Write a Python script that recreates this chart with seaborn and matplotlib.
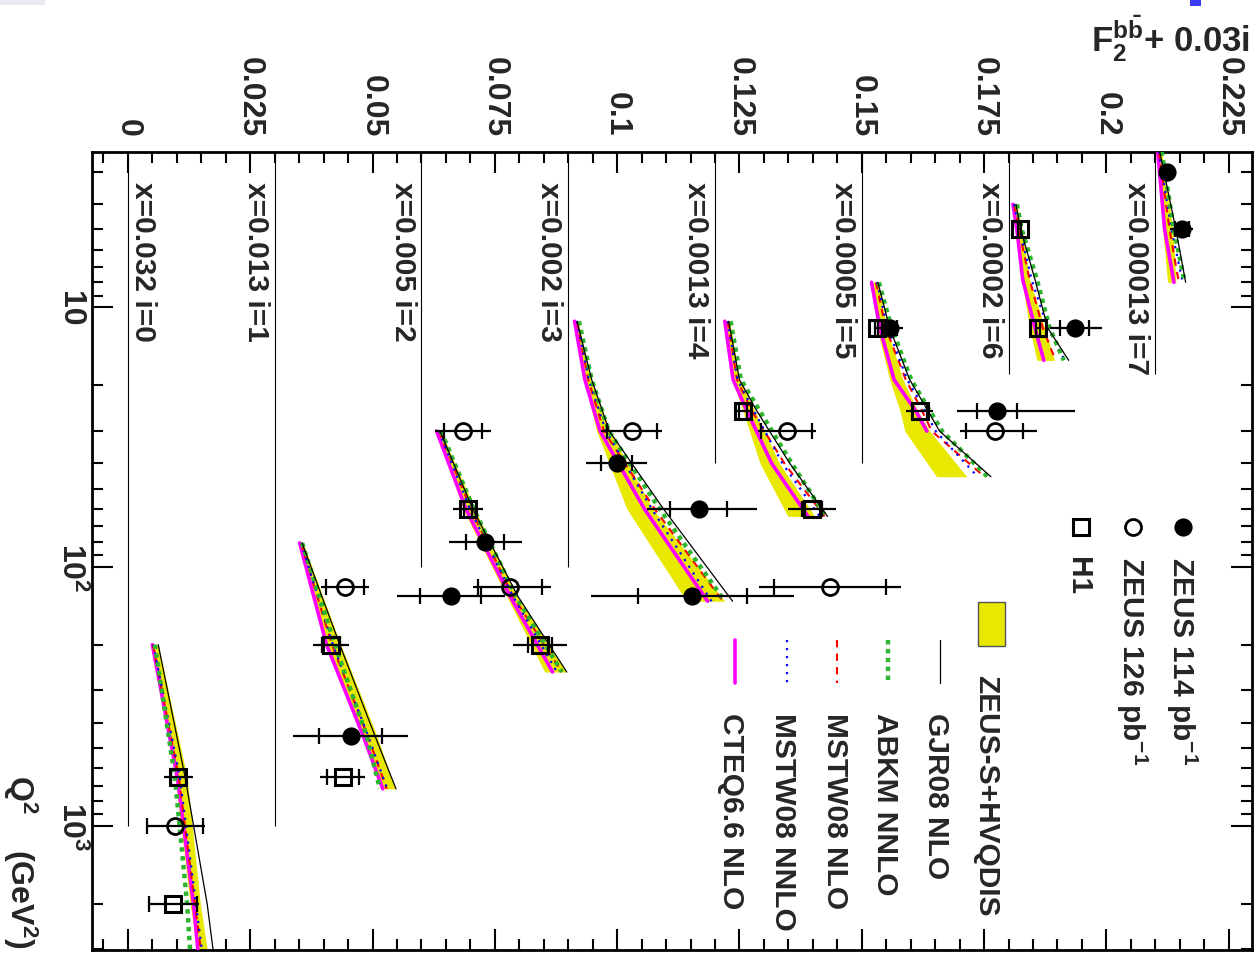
import numpy as np
import matplotlib
matplotlib.use("Agg")
import matplotlib.pyplot as plt
from matplotlib.patches import Rectangle
from matplotlib.ticker import MultipleLocator, LogLocator, NullFormatter
import seaborn as sns

sns.set_theme(style="ticks")
plt.rcParams["font.family"] = ["Liberation Sans", "DejaVu Sans"]
plt.rcParams["font.weight"] = "bold"
plt.rcParams["mathtext.fontset"] = "custom"
plt.rcParams["mathtext.rm"] = "Liberation Sans:bold"
plt.rcParams["mathtext.bf"] = "Liberation Sans:bold"
plt.rcParams["mathtext.it"] = "Liberation Sans:bold"
plt.rcParams["mathtext.default"] = "rm"

# ---------------- x bins (offset i * 0.03) ----------------
bins = [0, 1, 2, 3, 4, 5, 6, 7]
x_values = ["0.032", "0.013", "0.005", "0.002", "0.0013", "0.0005", "0.0002", "0.00013"]
offset_step = 0.03
baseline_end_q2 = [1000, 1000, 100, 100, 40, 40, 18, 18]

# ---------------- theory predictions: F2(bb) vs Q2 per bin ----------------
theory_q2 = [
    [200, 650, 2000, 3000],
    [81, 200, 450, 720],
    [30, 60, 130, 255],
    [11.3, 19, 30, 60, 136],
    [11.3, 19, 25, 40, 64],
    [8, 12, 19, 25, 30, 45],
    [4, 5, 7.8, 12, 16],
    [2.5, 5, 8],
]
band_lo = [
    [0.0050, 0.0097, 0.0127, 0.0142],
    [0.0051, 0.0104, 0.0180, 0.0219],
    [0.0034, 0.0085, 0.0174, 0.0252],
    [0.0013, 0.0033, 0.0058, 0.0120, 0.0242],
    [0.0018, 0.0035, 0.0057, 0.0092, 0.0149],
    [0.0020, 0.0031, 0.0057, 0.0078, 0.0088, 0.0153],
    [0.0009, 0.0015, 0.0027, 0.0043, 0.0058],
    [0.0001, 0.0015, 0.0025],
]
band_hi = [
    [0.0062, 0.0121, 0.0148, 0.0162],
    [0.0058, 0.0135, 0.0209, 0.0246],
    [0.0040, 0.0109, 0.0195, 0.0297],
    [0.0020, 0.0046, 0.0085, 0.0173, 0.0320],
    [0.0030, 0.0050, 0.0081, 0.0132, 0.0204],
    [0.0033, 0.0051, 0.0084, 0.0114, 0.0139, 0.0215],
    [0.0017, 0.0027, 0.0043, 0.0074, 0.0094],
    [0.0013, 0.0036, 0.0042],
]
gjr08_nlo = [
    [0.0062, 0.0117, 0.0162, 0.0174],
    [0.0056, 0.0133, 0.0205, 0.0248],
    [0.0038, 0.0105, 0.0197, 0.0297],
    [0.0018, 0.0048, 0.0084, 0.0195, 0.0336],
    [0.0028, 0.0050, 0.0085, 0.0153, 0.0230],
    [0.0033, 0.0057, 0.0098, 0.0135, 0.0159, 0.0264],
    [0.0015, 0.0025, 0.0054, 0.0080, 0.0123],
    [0.0009, 0.0042, 0.0062],
]
abkm_nnlo = [
    [0.0055, 0.0096, 0.0121, 0.0127],
    [0.0056, 0.0123, 0.0188, 0.0215],
    [0.0040, 0.0107, 0.0193, 0.0287],
    [0.0022, 0.0048, 0.0083, 0.0187, 0.0320],
    [0.0032, 0.0053, 0.0091, 0.0157, 0.0226],
    [0.0035, 0.0061, 0.0101, 0.0139, 0.0164, 0.0257],
    [0.0017, 0.0027, 0.0058, 0.0084, 0.0113],
    [0.0013, 0.0038, 0.0060],
]
mstw08_nlo = [
    [0.0051, 0.0104, 0.0137, 0.0149],
    [0.0054, 0.0117, 0.0190, 0.0229],
    [0.0036, 0.0101, 0.0187, 0.0287],
    [0.0018, 0.0041, 0.0073, 0.0177, 0.0316],
    [0.0026, 0.0045, 0.0075, 0.0142, 0.0224],
    [0.0029, 0.0049, 0.0090, 0.0123, 0.0143, 0.0251],
    [0.0011, 0.0021, 0.0043, 0.0070, 0.0096],
    [0.0007, 0.0029, 0.0048],
]
mstw08_nnlo = [
    [0.0052, 0.0106, 0.0139, 0.0151],
    [0.0054, 0.0119, 0.0191, 0.0230],
    [0.0036, 0.0099, 0.0187, 0.0277],
    [0.0018, 0.0042, 0.0077, 0.0171, 0.0293],
    [0.0026, 0.0046, 0.0079, 0.0138, 0.0214],
    [0.0031, 0.0053, 0.0093, 0.0129, 0.0151, 0.0237],
    [0.0011, 0.0023, 0.0047, 0.0080, 0.0115],
    [0.0007, 0.0033, 0.0056],
]
cteq66_nlo = [
    [0.0050, 0.0101, 0.0134, 0.0143],
    [0.0051, 0.0106, 0.0181, 0.0221],
    [0.0031, 0.0091, 0.0181, 0.0268],
    [0.0013, 0.0034, 0.0065, 0.0156, 0.0285],
    [0.0020, 0.0037, 0.0065, 0.0116, 0.0190],
    [0.0020, 0.0037, 0.0066, 0.0110, 0.0133, np.nan],
    [0.0009, 0.0017, 0.0029, 0.0054, 0.0072],
    [0.0005, 0.0019, 0.0038],
]

# ---------------- measurements ----------------
zeus114_bin = [7, 7, 6, 5, 5, 3, 3, 3, 2, 2, 1]
zeus114_q2 = [3, 5, 12, 12, 25, 40, 60, 130, 80, 130, 450]
zeus114_f2 = [0.0023, 0.0054, 0.0135, 0.0057, 0.0276, 0.0099, 0.0267, 0.0254, 0.0130, 0.0060, 0.0155]
zeus114_stat = [0.0004, 0.0014, 0.0029, 0.0015, 0.0041, 0.0032, 0.0058, 0.0111, 0.0039, 0.0062, 0.0065]
zeus114_tot_lo = [0.0006, 0.0023, 0.0051, 0.0027, 0.0082, 0.0062, 0.0106, 0.0207, 0.0073, 0.0110, 0.0118]
zeus114_tot_hi = [0.0006, 0.0023, 0.0057, 0.0027, 0.0159, 0.0062, 0.0118, 0.0207, 0.0075, 0.0110, 0.0118]

zeus126_bin = [5, 4, 4, 3, 2, 2, 1, 0]
zeus126_q2 = [30, 30, 120, 30, 30, 120, 120, 1000]
zeus126_f2 = [0.0272, 0.0147, 0.0235, 0.0130, 0.0085, 0.0181, 0.0143, 0.0097]
zeus126_stat = [0.0058, 0.0052, 0.0114, 0.0051, 0.0038, 0.0066, 0.0039, 0.0057]
zeus126_tot_lo = [0.0072, 0.0060, 0.0146, 0.0062, 0.0058, 0.0076, 0.0049, 0.0060]
zeus126_tot_hi = [0.0086, 0.0060, 0.0146, 0.0062, 0.0058, 0.0084, 0.0049, 0.0060]

h1_bin = [6, 6, 5, 5, 4, 4, 2, 2, 1, 1, 0, 0]
h1_q2 = [5, 12, 12, 25, 25, 60, 60, 200, 200, 650, 650, 2000]
h1_f2 = [0.0023, 0.0060, 0.0031, 0.0118, 0.0057, 0.0198, 0.0095, 0.0242, 0.0115, 0.0139, 0.0103, 0.0093]
h1_stat = [0.0003, 0.0004, 0.0003, 0.0015, 0.0008, 0.0020, 0.0008, 0.0024, 0.0018, 0.0033, 0.0015, 0.0049]
h1_tot = [0.0005, 0.0006, 0.0005, 0.0027, 0.0016, 0.0049, 0.0031, 0.0055, 0.0037, 0.0046, 0.0030, 0.0052]

# ---------------- styles ----------------
YELLOW = "#e8e800"
GREEN = "#2db52d"
models = [
    ("CTEQ6.6 NLO", cteq66_nlo, dict(color="#ff00ff", lw=2.6, linestyle="-"), 3),
    ("MSTW08 NLO", mstw08_nlo, dict(color="#ff0000", lw=1.5, linestyle=(0, (3.5, 3))), 4),
    ("MSTW08 NNLO", mstw08_nnlo, dict(color="#0000ff", lw=1.6, linestyle=(0, (1, 2.6))), 5),
    ("ABKM NNLO", abkm_nnlo, dict(color=GREEN, lw=3.2, linestyle=(0, (1.0, 1.0))), 6),
    ("GJR08 NLO", gjr08_nlo, dict(color="black", lw=0.9, linestyle="-"), 7),
]

# ---------------- figure / axes geometry (pixels) ----------------
W, H = 1260, 954
AX_L, AX_R, AX_T, AX_B = 91.7, 1251.7, 153.3, 950.7
fig = plt.figure(figsize=(W / 100, H / 100), dpi=100)
fig.patch.set_facecolor("white")
ax = fig.add_axes([AX_L / W, 1 - AX_B / H, (AX_R - AX_L) / W, (AX_B - AX_T) / H])
ax.set_facecolor("white")


def fx(px):
    return (px - AX_L) / (AX_R - AX_L)


def fy(py):
    return (AX_B - py) / (AX_B - AX_T)


Q2_MIN, Q2_MAX = 2.52, 3006
ax.set_yscale("log")
ax.set_xlim(-0.0074, 0.2297)
ax.set_ylim(Q2_MAX, Q2_MIN)

# baselines for each x bin
for i in bins:
    ax.vlines(offset_step * i, Q2_MIN, baseline_end_q2[i], color="black", lw=0.8, zorder=1)

# theory curves
for i in bins:
    q = np.array(theory_q2[i], dtype=float)
    off = offset_step * i
    ax.fill_betweenx(q, np.array(band_lo[i]) + off, np.array(band_hi[i]) + off,
                     color=YELLOW, lw=0, zorder=2)
    for name, vals, style, z in models:
        v = np.array(vals[i], dtype=float) + off
        ok = ~np.isnan(v)
        sns.lineplot(x=v[ok], y=q[ok], ax=ax, sort=False, estimator=None,
                     legend=False, zorder=z, **style)

# measurements
MARKER_STYLE = {
    "filled": dict(marker="o", ms=11.5, mfc="black", mew=1.6),
    "open": dict(marker="o", ms=11.5, mfc="none", mew=2.0),
    "square": dict(marker="s", ms=11.5, mfc="none", mew=2.2),
}


def draw_points(b, q2, f2, stat, lo, hi, kind):
    xs = np.array(f2) + offset_step * np.array(b)
    ys = np.array(q2, dtype=float)
    ax.errorbar(xs, ys, xerr=[lo, hi], fmt="none", ecolor="black", elinewidth=1.6,
                capsize=0, zorder=8)
    ax.errorbar(xs, ys, xerr=stat, fmt="none", ecolor="black", elinewidth=0,
                capsize=5.8, capthick=1.6, zorder=8)
    ax.plot(xs, ys, linestyle="none", mec="black", zorder=9, **MARKER_STYLE[kind])


draw_points(zeus114_bin, zeus114_q2, zeus114_f2, zeus114_stat, zeus114_tot_lo, zeus114_tot_hi,
            "filled")
draw_points(zeus126_bin, zeus126_q2, zeus126_f2, zeus126_stat, zeus126_tot_lo, zeus126_tot_hi,
            "open")
draw_points(h1_bin, h1_q2, h1_f2, h1_stat, h1_tot, h1_tot, "square")

# bin labels
for i in bins:
    xl = offset_step * i - 0.0055 if i > 0 else 0.0015
    ax.text(xl, 3.26, f"x={x_values[i]} i={i}", rotation=-90, rotation_mode="anchor",
            ha="left", va="baseline", fontsize=21.5, fontweight="bold", zorder=10)

# axes frame and ticks
for s in ax.spines.values():
    s.set_linewidth(2.0)
    s.set_color("black")
ax.xaxis.set_major_locator(MultipleLocator(0.025))
ax.xaxis.set_minor_locator(MultipleLocator(0.005))
ax.yaxis.set_major_locator(LogLocator(base=10, numticks=10))
ax.yaxis.set_minor_locator(LogLocator(base=10, subs=np.arange(2, 10), numticks=20))
ax.yaxis.set_minor_formatter(NullFormatter())
ax.tick_params(which="both", direction="in", top=True, bottom=True, left=True, right=True,
               labeltop=False, labelbottom=False, labelleft=False, labelright=False,
               width=1.5, color="black")
ax.tick_params(which="major", length=15)
ax.tick_params(which="minor", length=8)
ax.set_xlabel("")
ax.set_ylabel("")
ax.grid(False)

# tick labels (rotated with the chart)
f2_ticks = [0, 0.025, 0.05, 0.075, 0.1, 0.125, 0.15, 0.175, 0.2, 0.225]
f2_tick_labels = ["0", "0.025", "0.05", "0.075", "0.1", "0.125", "0.15", "0.175", "0.2", "0.225"]
xt = ax.get_xaxis_transform()
for v, lab in zip(f2_ticks, f2_tick_labels):
    ax.text(v, fy(137), lab, transform=xt, rotation=-90, rotation_mode="anchor",
            ha="right", va="center", fontsize=23, fontweight="bold", clip_on=False)

q2_ticks = [10, 100, 1000]
q2_tick_labels = ["10", "10$^{2}$", "10$^{3}$"]
yt = ax.get_yaxis_transform()
for v, lab in zip(q2_ticks, q2_tick_labels):
    ax.text(fx(62), v, lab, transform=yt, rotation=-90, rotation_mode="anchor",
            ha="center", va="baseline", fontsize=23, fontweight="bold", clip_on=False)

# axis titles
ax.text(fx(10), fy(948), "Q$^{2}$    (GeV$^{2}$)", transform=ax.transAxes, rotation=-90,
        rotation_mode="anchor", ha="right", va="baseline", fontsize=23, fontweight="bold",
        clip_on=False)
fig.text(1250 / W, 1 - 52 / H, r"F$_{2}^{b\bar{b}}$+ 0.03i", ha="right", va="baseline",
         fontsize=25, fontweight="bold")

# legend: measurements
tr = ax.transAxes
leg_pts = [
    (1183, "filled", 1172, "ZEUS 114 pb$^{-1}$"),
    (1133, "open", 1122, "ZEUS 126 pb$^{-1}$"),
    (1081, "square", 1070, "H1"),
]
for mx, kind, tx, lab in leg_pts:
    ax.plot([fx(mx)], [fy(528)], transform=tr, linestyle="none", mec="black",
            clip_on=False, zorder=10, **MARKER_STYLE[kind])
    ax.text(fx(tx), fy(557), lab, transform=tr, rotation=-90, rotation_mode="anchor",
            ha="left", va="baseline", fontsize=21.5, fontweight="bold")

# legend: predictions
ax.add_patch(Rectangle((fx(978), fy(647)), fx(1005) - fx(978), fy(603) - fy(647),
                       transform=tr, facecolor=YELLOW, edgecolor="#555555", lw=1.0, zorder=10))
ax.text(fx(978), fy(675), "ZEUS-S+HVQDIS", transform=tr, rotation=-90, rotation_mode="anchor",
        ha="left", va="baseline", fontsize=21.5, fontweight="bold")
leg_lines = [(940, 928, "GJR08 NLO"), (888, 877, "ABKM NNLO"), (837, 827, "MSTW08 NLO"),
             (787, 775, "MSTW08 NNLO"), (735, 723, "CTEQ6.6 NLO")]
style_by_name = {m[0]: m[2] for m in models}
for lx, tx, lab in leg_lines:
    ax.plot([fx(lx), fx(lx)], [fy(641), fy(684)], transform=tr, clip_on=False, zorder=10,
            **style_by_name[lab])
    ax.text(fx(tx), fy(713), lab, transform=tr, rotation=-90, rotation_mode="anchor",
            ha="left", va="baseline", fontsize=21.5, fontweight="bold")

# small marks at the top edge of the page
fig.patches.append(Rectangle((1190 / W, 1 - 7 / H), 11 / W, 7 / H, transform=fig.transFigure,
                             facecolor="#3b3bf2", edgecolor="none"))
fig.patches.append(Rectangle((0, 1 - 6 / H), 45 / W, 6 / H, transform=fig.transFigure,
                             facecolor="#e9e9f2", edgecolor="none"))

fig.savefig("out.png", dpi=100)
